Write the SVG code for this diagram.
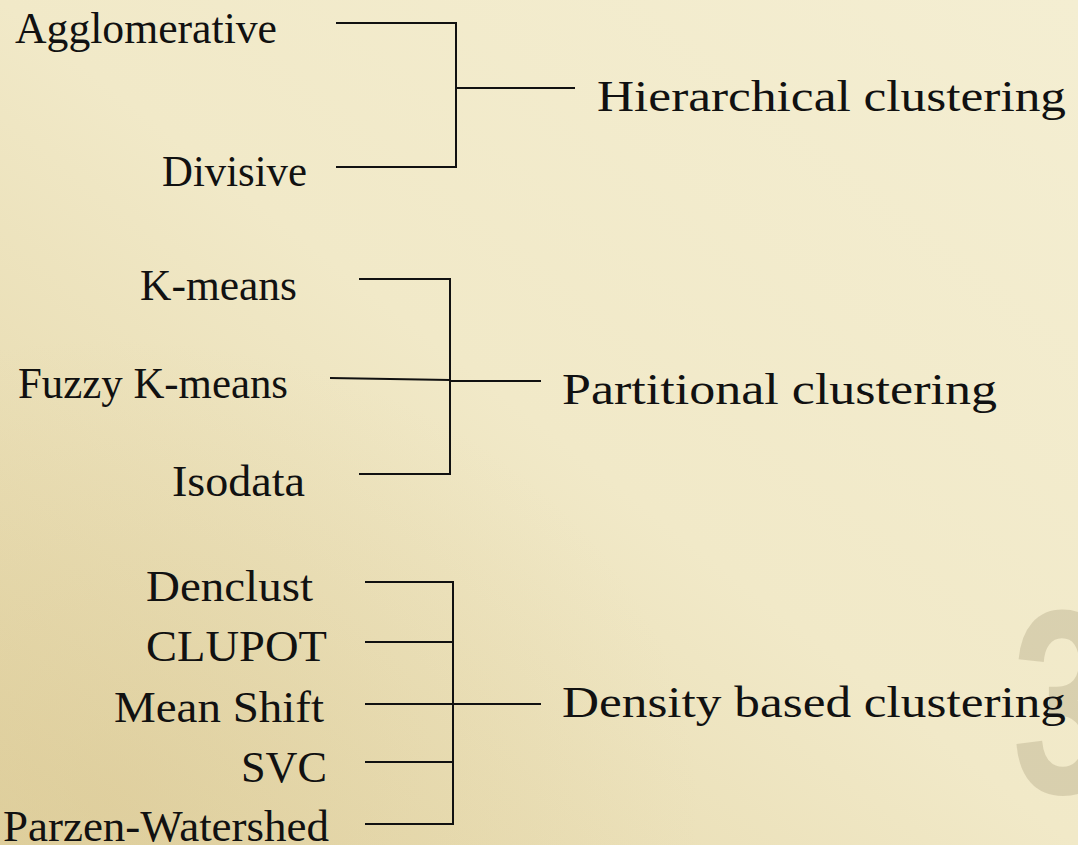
<svg xmlns="http://www.w3.org/2000/svg" width="1078" height="845" viewBox="0 0 1078 845">
  <defs>
    <linearGradient id="paper" x1="1" y1="0" x2="0" y2="1">
      <stop offset="0" stop-color="#f4eed2"/>
      <stop offset="0.5" stop-color="#f1e9c8"/>
      <stop offset="1" stop-color="#e2d3a2"/>
    </linearGradient>
    <radialGradient id="stain" cx="0.1" cy="0.95" r="0.55">
      <stop offset="0" stop-color="#d3bf88" stop-opacity="0.3"/>
      <stop offset="1" stop-color="#d3bf88" stop-opacity="0"/>
    </radialGradient>
    <style>
      .lbl { font-family: "Liberation Serif", "DejaVu Serif", serif; font-size: 44px; fill: #111; }
      .cat { font-family: "Liberation Serif", "DejaVu Serif", serif; font-size: 44px; fill: #111; }
      .wire { stroke: #111; stroke-width: 2; fill: none; }
    </style>
  </defs>

  <!-- parchment background -->
  <rect width="1078" height="845" fill="url(#paper)"/>
  <rect width="1078" height="845" fill="url(#stain)"/>

  <!-- faded slide number, condensed -->
  <g transform="translate(1018,793) scale(0.72,1.03)">
    <text x="-8" y="0" font-family="'Liberation Sans', sans-serif" font-weight="bold" font-size="255" fill="#7a6a45" fill-opacity="0.2">3</text>
  </g>

  <g id="connectors">
    <!-- hierarchical bracket -->
    <polyline class="wire" points="336,23 456,23 456,167 336,167"/>
    <line class="wire" x1="456" y1="88" x2="575" y2="88"/>
    <!-- partitional bracket -->
    <polyline class="wire" points="359,279 450,279 450,474 359,474"/>
    <line class="wire" x1="330" y1="378" x2="450" y2="380"/>
    <line class="wire" x1="450" y1="381" x2="541" y2="381"/>
    <!-- density bracket -->
    <polyline class="wire" points="365,582 453,582 453,824 365,824"/>
    <line class="wire" x1="365" y1="642" x2="453" y2="642"/>
    <line class="wire" x1="365" y1="704" x2="541" y2="704"/>
    <line class="wire" x1="365" y1="762" x2="453" y2="762"/>
  </g>

  <g id="agglomerative"><text class="lbl" x="15" y="43" textLength="262" lengthAdjust="spacingAndGlyphs">Agglomerative</text></g>
  <g id="divisive"><text class="lbl" x="162" y="186" textLength="145" lengthAdjust="spacingAndGlyphs">Divisive</text></g>
  <g id="hierarchical"><text class="cat" x="597" y="111" textLength="469" lengthAdjust="spacingAndGlyphs">Hierarchical clustering</text></g>

  <g id="kmeans"><text class="lbl" x="140" y="300" textLength="157" lengthAdjust="spacingAndGlyphs">K-means</text></g>
  <g id="fuzzy-kmeans"><text class="lbl" x="18" y="398" textLength="270" lengthAdjust="spacingAndGlyphs">Fuzzy K-means</text></g>
  <g id="isodata"><text class="lbl" x="172" y="496" textLength="133" lengthAdjust="spacingAndGlyphs">Isodata</text></g>
  <g id="partitional"><text class="cat" x="562" y="404" textLength="435" lengthAdjust="spacingAndGlyphs">Partitional clustering</text></g>

  <g id="denclust"><text class="lbl" x="146" y="601" textLength="167" lengthAdjust="spacingAndGlyphs">Denclust</text></g>
  <g id="clupot"><text class="lbl" x="146" y="661" textLength="181" lengthAdjust="spacingAndGlyphs">CLUPOT</text></g>
  <g id="mean-shift"><text class="lbl" x="114" y="722" textLength="210" lengthAdjust="spacingAndGlyphs">Mean Shift</text></g>
  <g id="svc"><text class="lbl" x="241" y="782" textLength="86" lengthAdjust="spacingAndGlyphs">SVC</text></g>
  <g id="parzen-watershed"><text class="lbl" x="3" y="841" textLength="326" lengthAdjust="spacingAndGlyphs">Parzen-Watershed</text></g>
  <g id="density"><text class="cat" x="562" y="717" textLength="504" lengthAdjust="spacingAndGlyphs">Density based clustering</text></g>
</svg>
